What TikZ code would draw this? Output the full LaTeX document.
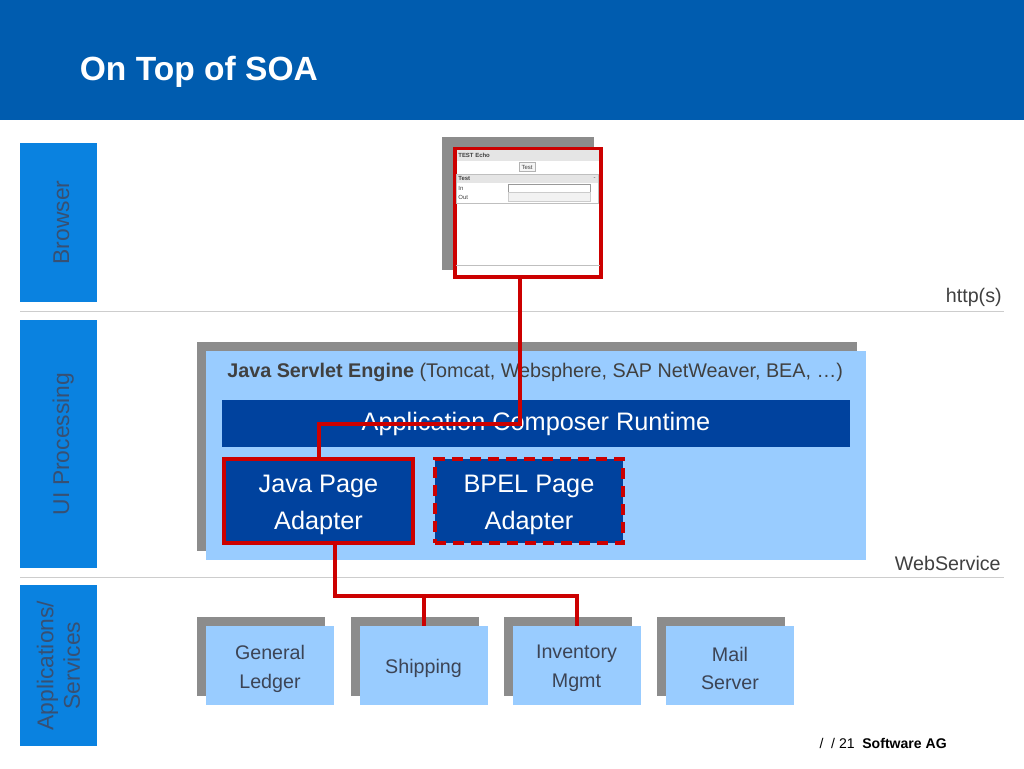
\documentclass[tikz,border=0pt]{standalone}
\usepackage{fontspec}
\setmainfont{Liberation Sans}
\usetikzlibrary{shadows}
\definecolor{headblue}{RGB}{0,92,175}
\definecolor{barblue}{RGB}{10,130,224}
\definecolor{paleblue}{RGB}{153,204,255}
\definecolor{darkblue}{RGB}{0,66,158}
\definecolor{linkred}{RGB}{204,0,0}
\definecolor{shadegray}{RGB}{140,140,140}
\definecolor{rulegray}{RGB}{205,205,205}
\definecolor{bartext}{RGB}{55,80,115}
\definecolor{boxtext}{RGB}{60,68,85}
\definecolor{plaintext}{RGB}{64,64,64}
\newlength\px
\setlength\px{0.02cm}
\tikzset{
sidebar/.style={fill=barblue,rotate=90,inner sep=0pt,minimum height=77\px,text=bartext,font=\fontsize{13}{15}\selectfont,align=center},
oneline/.style={text height=12.5pt,text depth=0.5pt},
shaded/.style={general shadow={shadow xshift=-9\px,shadow yshift=9\px,fill=shadegray}},
adapter/.style={fill=darkblue,draw=linkred,line width=4\px,minimum height=84\px,inner sep=0pt},
adaptertext/.style={text=white,inner sep=0pt,align=center,font=\fontsize{14.4}{21}\selectfont},
service/.style={shaded,fill=paleblue,minimum width=128\px,minimum height=79\px,inner sep=0pt},
servicetext/.style={text=boxtext,inner sep=0pt,align=center,font=\fontsize{11.2}{16.4}\selectfont},
smalltext/.style={text=plaintext,font=\fontsize{11.2}{13}\selectfont,inner sep=0pt},
tinytext/.style={inner sep=0pt,font=\fontsize{3.4}{4}\selectfont,text=black!75},
link/.style={draw=linkred,line width=4\px},
rulebar/.style={draw=rulegray,line width=1\px}
}
\begin{document}
\begin{tikzpicture}[x=0.02cm,y=-0.02cm]
\useasboundingbox (0,0) rectangle (1024,768);
\fill[white] (0,0) rectangle (1024,768);
\node[fill=headblue,minimum width=1024\px,minimum height=120\px,anchor=north west,inner sep=0pt] (header) at (0,0) {};
\node[anchor=base west,text=white,inner sep=0pt,font=\fontsize{19.1}{22}\selectfont\bfseries] (title) at (79.5,80) {On Top of SOA};
\node[sidebar,oneline,minimum width=159\px] (browserbar) at (58.5,222.5) {Browser};
\node[sidebar,oneline,minimum width=248\px] (uibar) at (58.5,444) {UI Processing};
\node[sidebar,minimum width=161\px] (appbar) at (58.5,665.5) {Applications/\\Services};
\draw[rulebar] (20,311) -- (1004,311);
\draw[rulebar] (20,577) -- (1004,577);
\node[smalltext,anchor=base east] (httplabel) at (1002,302) {http(s)};
\node[smalltext,anchor=base east] (wslabel) at (1001,570) {WebService};
\node[general shadow={shadow xshift=-10\px,shadow yshift=9\px,shadow scale=1.04,fill=shadegray},fill=white,draw=linkred,line width=4\px,minimum width=146\px,minimum height=128\px,inner sep=0pt] (browser) at (528,213) {};
\node[fill=black!10,minimum width=142\px,minimum height=11\px,inner sep=0pt,anchor=north west] (winbar) at (457,150) {};
\node[tinytext,anchor=west,font=\fontsize{3.4}{4}\selectfont\bfseries] (wintitle) at (458,155.5) {TEST Echo};
\node[draw=black!30,fill=black!4,line width=0.6\px,tinytext,minimum width=16\px,minimum height=9\px] (testbutton) at (527,167) {Test};
\node[draw=black!25,line width=0.8\px,minimum width=142\px,minimum height=29\px,inner sep=0pt,anchor=north west] (section) at (456,174) {};
\node[fill=black!10,minimum width=141\px,minimum height=8\px,inner sep=0pt,anchor=north west] (sectionbar) at (456.5,174.5) {};
\node[tinytext,anchor=west,font=\fontsize{3.4}{4}\selectfont\bfseries] (sectiontitle) at (458,178.5) {Test};
\node[tinytext,anchor=east] (sectionfold) at (596,178.5) {-};
\node[tinytext,anchor=west] (inlabel) at (458,188) {In};
\node[tinytext,anchor=west] (outlabel) at (458,197) {Out};
\node[draw=black!40,fill=white,line width=0.8\px,minimum width=82\px,minimum height=8\px,inner sep=0pt,anchor=north west] (infield) at (508,184) {};
\node[draw=black!20,fill=black!5,line width=0.8\px,minimum width=82\px,minimum height=9\px,inner sep=0pt,anchor=north west] (outfield) at (508,192) {};
\draw[draw=black!25,line width=0.8\px] (456,265) -- (600,265);
\node[shaded,fill=paleblue,minimum width=660\px,minimum height=209\px,inner sep=0pt] (engine) at (536,455.5) {};
\node[anchor=base west,text=plaintext,inner sep=0pt,font=\fontsize{11.25}{13}\selectfont] (enginetitle) at (227,377) {\textbf{Java Servlet Engine} (Tomcat, Websphere, SAP NetWeaver, BEA, …)};
\node[fill=darkblue,text=white,minimum width=628\px,minimum height=47\px,inner sep=0pt,font=\fontsize{14.4}{21}\selectfont] (runtime) at (536,423.5) {Application Composer Runtime};
\node[adapter,minimum width=189\px] (javapage) at (318.5,501) {};
\node[adaptertext] (javapagetext) at ([yshift=-4\px]javapage.center) {Java Page\\Adapter};
\node[adapter,minimum width=188\px,dash pattern=on 11\px off 7\px] (bpelpage) at (529,501) {};
\node[adaptertext] (bpelpagetext) at ([yshift=-4\px]bpelpage.center) {BPEL Page\\Adapter};
\node[service] (ledger) at (270,665.5) {};
\node[servicetext] (ledgertext) at ([yshift=-3\px]ledger.center) {General\\Ledger};
\node[service] (shipping) at (423.5,665.5) {};
\node[servicetext] (shippingtext) at ([yshift=-3\px]shipping.center) {Shipping};
\node[service] (inventory) at (576.5,665.5) {};
\node[servicetext] (inventorytext) at ([yshift=-3\px]inventory.center) {Inventory\\Mgmt};
\node[service] (mail) at (730,665.5) {};
\node[servicetext] (mailtext) at ([yshift=-3\px]mail.center) {Mail\\Server};
\coordinate (bus) at (334.5,596);
\draw[link] ([xshift=-8\px]browser.south) -- ([xshift=-8\px]browser.south |- runtime.center) -| (javapage.north);
\draw[link] ([xshift=16\px]javapage.south) -- (bus) -| (inventory.north);
\draw[link] (bus -| shipping.north) -- (shipping.north);
\node[anchor=base east,inner sep=0pt,font=\fontsize{8}{10}\selectfont] (pageno) at (855,748) {/ \;/ 21};
\node[anchor=base west,inner sep=0pt,font=\fontsize{8}{10}\selectfont\bfseries] (company) at (862,748) {Software AG};
\end{tikzpicture}
\end{document}
